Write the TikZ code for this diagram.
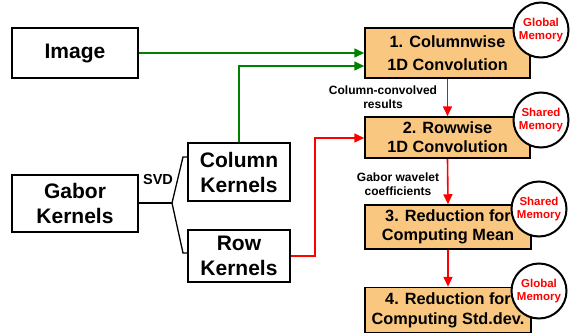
\documentclass[tikz,border=0pt]{standalone}
\usepackage{fontspec}
\setmainfont{Liberation Sans}
\usetikzlibrary{arrows.meta}
\definecolor{stagefill}{RGB}{250,199,128}
\definecolor{flowgreen}{RGB}{0,130,0}
\definecolor{flowred}{RGB}{255,0,0}
\tikzset{
  inbox/.style={draw, line width=1.5pt, align=center, font=\bfseries\fontsize{21}{25}\selectfont, inner sep=0pt},
  stagebox/.style={draw, line width=1.5pt, fill=stagefill, align=center, inner sep=0pt},
  memcircle/.style={draw, line width=2pt, fill=white, circle, minimum size=55pt, inner sep=0pt, align=center,
    text=flowred, font=\bfseries\fontsize{11.5}{13}\selectfont},
  flowlabel/.style={align=center, font=\bfseries\fontsize{12}{14}\selectfont, inner sep=0pt},
  tip/.style={-{Triangle[length=10pt,width=9pt]}},
}
\begin{document}
\begin{tikzpicture}[x=1pt,y=-1pt]
\useasboundingbox (0,0) rectangle (574,335);

% inputs
\node[inbox, minimum width=126pt, minimum height=50pt] (img) at (75,53) {Image};
\node[inbox, minimum width=126pt, minimum height=57pt] (gabor) at (75,203.5) {Gabor\\Kernels};
\node[inbox, minimum width=102pt, minimum height=58pt] (colk) at (239,172) {Column\\Kernels};
\node[inbox, minimum width=102pt, minimum height=52pt] (rowk) at (239,256) {Row\\Kernels};

% processing stages
\node[stagebox, minimum width=165pt, minimum height=50pt, font=\bfseries\fontsize{16.3}{23}\selectfont] (s1) at (447.5,53) {1. Columnwise\\1D Convolution};
\node[stagebox, minimum width=165pt, minimum height=41pt, font=\bfseries\fontsize{16.3}{19}\selectfont] (s2) at (447.5,137.5) {2. Rowwise\\1D Convolution};
\node[stagebox, minimum width=166pt, minimum height=44pt, font=\bfseries\fontsize{16.3}{19}\selectfont] (s3) at (448,227) {3. Reduction for\\Computing Mean};
\node[stagebox, minimum width=166pt, minimum height=45pt, font=\bfseries\fontsize{16.3}{20}\selectfont] (s4) at (448,310) {4. Reduction for\\Computing Std.dev.};

% memory markers
\node[memcircle] (m1) at (541,30) {Global\\Memory};
\node[memcircle] (m2) at (541,120) {Shared\\Memory};
\node[memcircle] (m3) at (539,209) {Shared\\Memory};
\node[memcircle] (m4) at (539,291) {Global\\Memory};

% SVD fork
\coordinate (fork) at (172,203);
\draw[line width=1.3pt] (gabor.east |- fork) -- (fork);
\draw[line width=1.3pt] (fork) -- (183,157) -- (colk.west |- 0,157);
\draw[line width=1.3pt] (fork) -- (183,253) -- (rowk.west |- 0,253);
\node[font=\bfseries\fontsize{14.5}{16}\selectfont, inner sep=0pt] (svd) at (158,180) {SVD};

% data flow
\draw[tip, flowgreen, line width=1.6pt] (img.east) -- (s1.west |- img.east);
\draw[tip, flowgreen, line width=1.6pt] (colk.north) |- (s1.west |- 0,66);
\draw[tip, flowred, line width=1.6pt] (rowk.east) -| (315,138) -- (s2.west |- 0,138);
\draw[tip, flowred, line width=1.6pt] (s1.south) -- (s2.north);
\draw[tip, flowred, line width=1.6pt] (s2.south) -- (s3.north);
\draw[tip, flowred, line width=1.6pt] (s3.south) -- (s4.north);

\node[flowlabel] (lab1) at (383,97) {Column-convolved\\results};
\node[flowlabel] (lab2) at (398,184) {Gabor wavelet\\coefficients};
\end{tikzpicture}
\end{document}
